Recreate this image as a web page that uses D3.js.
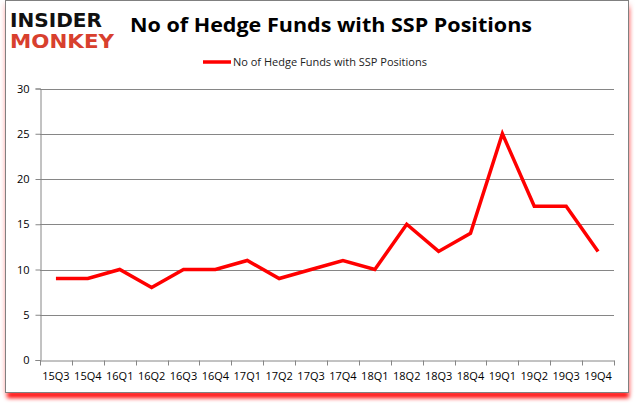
<!DOCTYPE html>
<html>
<head>
<meta charset="utf-8">
<script src="https://cdn.jsdelivr.net/npm/d3@7"></script>
<style>
  body { margin: 0; background: #fff; }
  svg { display: block; }
</style>
</head>
<body>
<div id="chart"></div>
<script>
// Quarters and fund counts
const quarters = ["15Q3", "15Q4", "16Q1", "16Q2", "16Q3", "16Q4", "17Q1", "17Q2", "17Q3",
    "17Q4", "18Q1", "18Q2", "18Q3", "18Q4", "19Q1", "19Q2", "19Q3", "19Q4"];
const funds = [9, 9, 10, 8, 10, 10, 11, 9, 10, 11, 10, 15, 12, 14, 25, 17, 17, 12];
const yTicks = [0, 5, 10, 15, 20, 25, 30];
const seriesName = "No of Hedge Funds with SSP Positions";

const width = 635, height = 405;
const svg = d3.select("#chart")
    .append("svg")
    .attr("width", width)
    .attr("height", height);

// Frame with a red shadow underneath
const defs = svg.append("defs");
defs.append("filter")
    .attr("id", "blur")
    .attr("x", "-5%").attr("y", "-5%")
    .attr("width", "110%").attr("height", "110%")
    .append("feGaussianBlur")
    .attr("stdDeviation", 2);

svg.append("rect")
    .attr("x", 7).attr("y", 8)
    .attr("width", 622).attr("height", 390)
    .attr("fill", "#ff0000")
    .attr("filter", "url(#blur)");
svg.append("rect")
    .attr("x", 3).attr("y", 3)
    .attr("width", 628).attr("height", 390)
    .attr("fill", "#ffcccc")
    .attr("filter", "url(#blur)")
    .attr("opacity", 0.6);
svg.append("rect")
    .attr("x", 5.5).attr("y", 0.5)
    .attr("width", 623).attr("height", 392)
    .attr("fill", "#fff")
    .attr("stroke", "#808080")
    .attr("stroke-width", 1);

// Logo, letters stretched upward like the original mark
const logo = svg.append("g");
logo.append("text")
    .attr("transform", "translate(10,27) scale(1,1.3)")
    .attr("font-family", "DejaVu Sans")
    .attr("font-weight", "bold")
    .attr("font-size", 15)
    .attr("textLength", 92)
    .attr("lengthAdjust", "spacingAndGlyphs")
    .attr("fill", "#111")
    .text("INSIDER");
logo.append("text")
    .attr("transform", "translate(10,48) scale(1,1.3)")
    .attr("font-family", "DejaVu Sans")
    .attr("font-weight", "bold")
    .attr("font-size", 15)
    .attr("textLength", 104)
    .attr("lengthAdjust", "spacingAndGlyphs")
    .attr("fill", "#d8402e")
    .text("MONKEY");

// Title
svg.append("text")
    .attr("x", 331).attr("y", 32)
    .attr("text-anchor", "middle")
    .attr("font-family", "Open Sans")
    .attr("font-weight", "bold")
    .attr("font-size", 20)
    .attr("textLength", 402)
    .attr("lengthAdjust", "spacingAndGlyphs")
    .attr("fill", "#000")
    .text(seriesName);

// Legend
svg.append("line")
    .attr("x1", 203).attr("x2", 231)
    .attr("y1", 62).attr("y2", 62)
    .attr("stroke", "#ff0000")
    .attr("stroke-width", 3.5);
svg.append("text")
    .attr("x", 233).attr("y", 66)
    .attr("font-family", "Open Sans")
    .attr("font-size", 11)
    .attr("fill", "#222")
    .text(seriesName);

// Scales
const x = d3.scaleBand()
    .domain(quarters)
    .range([40, 614]);
const y = d3.scaleLinear()
    .domain([0, 30])
    .range([360, 88.5]);

// Grid lines
svg.append("g")
    .selectAll("line")
    .data(yTicks.filter(d => d > 0))
    .enter()
    .append("line")
    .attr("x1", 40).attr("x2", 614)
    .attr("y1", d => Math.round(y(d)) + 0.5)
    .attr("y2", d => Math.round(y(d)) + 0.5)
    .attr("stroke", "#868686");

// Axes
const xAxis = svg.append("g")
    .attr("transform", `translate(0,${Math.round(y(0)) + 0.5})`)
    .call(d3.axisBottom(x).tickSize(0).tickPadding(12));
xAxis.select(".domain").attr("stroke", "#868686");
xAxis.selectAll("text")
    .attr("font-family", "Open Sans")
    .attr("font-size", 11)
    .attr("fill", "#000");
// tick marks sit between the categories
xAxis.selectAll(".between")
    .data(quarters.map(q => x(q)).concat([614]))
    .enter()
    .append("line")
    .attr("x1", d => Math.round(d) + 0.5)
    .attr("x2", d => Math.round(d) + 0.5)
    .attr("y1", 0).attr("y2", 5)
    .attr("stroke", "#868686");

const yAxis = svg.append("g")
    .attr("transform", "translate(40.5,0)")
    .call(d3.axisLeft(y).tickValues(yTicks).tickSize(5).tickPadding(6));
yAxis.select(".domain").attr("stroke", "#868686");
yAxis.selectAll(".tick line").attr("stroke", "#868686");
yAxis.selectAll("text")
    .attr("font-family", "Open Sans")
    .attr("font-size", 11)
    .attr("fill", "#000");

// Series line
const line = d3.line()
    .x((d, i) => x(quarters[i]) + x.bandwidth() / 2)
    .y(d => y(d));

svg.append("path")
    .datum(funds)
    .attr("d", line)
    .attr("fill", "none")
    .attr("stroke", "#ff0000")
    .attr("stroke-width", 3.5)
    .attr("stroke-linejoin", "miter");
</script>
</body>
</html>
